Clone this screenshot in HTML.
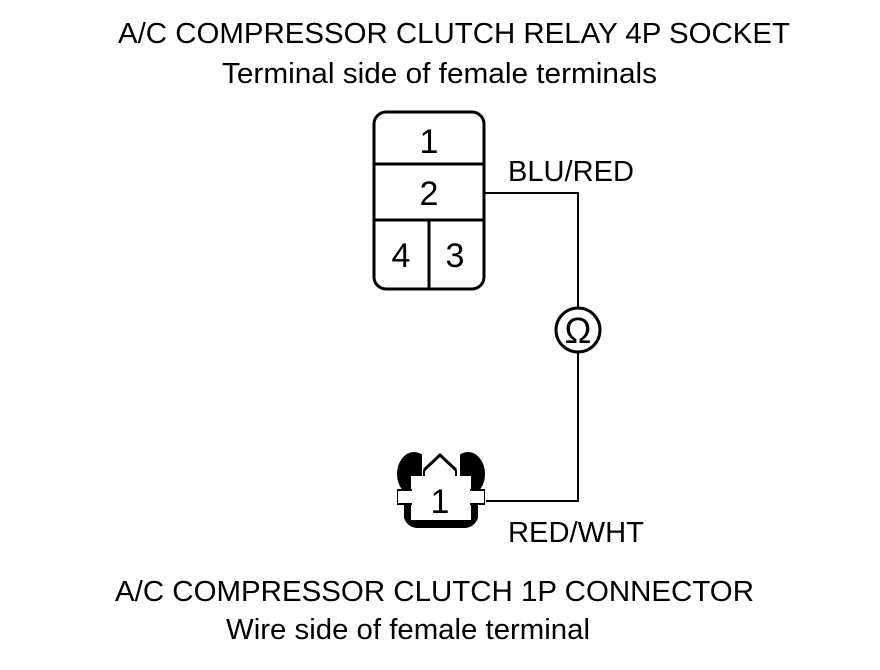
<!DOCTYPE html>
<html><head><style>
body{margin:0;background:#fff;}
svg{display:block}
text{font-family:"Liberation Sans",Arial,sans-serif;fill:#000}
</style></head><body>
<svg width="880" height="670" viewBox="0 0 880 670">
<text x="118" y="43" font-size="29" textLength="672" lengthAdjust="spacingAndGlyphs">A/C COMPRESSOR CLUTCH RELAY 4P SOCKET</text>
<text x="222" y="83" font-size="29" textLength="435" lengthAdjust="spacingAndGlyphs">Terminal side of female terminals</text>
<rect x="374" y="112" width="110" height="177" rx="12" fill="none" stroke="#000" stroke-width="3"/>
<line x1="374" y1="164" x2="484" y2="164" stroke="#000" stroke-width="3"/>
<line x1="374" y1="220" x2="484" y2="220" stroke="#000" stroke-width="3"/>
<line x1="429" y1="220" x2="429" y2="289" stroke="#000" stroke-width="3"/>
<text x="429" y="153" font-size="34" text-anchor="middle">1</text>
<text x="429" y="205" font-size="34" text-anchor="middle">2</text>
<text x="401" y="267" font-size="34" text-anchor="middle">4</text>
<text x="455" y="267" font-size="34" text-anchor="middle">3</text>
<text x="508" y="181" font-size="29" textLength="126" lengthAdjust="spacingAndGlyphs">BLU/RED</text>
<polyline points="484,193 578,193 578,308" fill="none" stroke="#000" stroke-width="2"/>
<circle cx="578" cy="330" r="22" fill="none" stroke="#000" stroke-width="3"/>
<text x="578" y="343" font-size="36" text-anchor="middle">Ω</text>
<polyline points="578,352 578,501 486,501" fill="none" stroke="#000" stroke-width="2"/>
<!-- connector -->
<ellipse cx="414" cy="474" rx="17" ry="22" fill="#000"/>
<ellipse cx="468" cy="474" rx="17" ry="22" fill="#000"/>
<path d="M404,480 l0,38 q4,10 14,10 l46,0 q10,0 14,-10 l0,-38 z" fill="#000"/>
<rect x="411" y="476" width="60" height="44" fill="#fff"/>
<rect x="396" y="490" width="90" height="14" fill="#fff"/>
<rect x="398" y="490" width="13" height="14" fill="none" stroke="#000" stroke-width="2"/>
<rect x="471" y="490" width="13" height="14" fill="none" stroke="#000" stroke-width="2"/>
<rect x="398" y="491" width="14" height="12" fill="#fff"/>
<rect x="470" y="491" width="14" height="12" fill="#fff"/>
<rect x="422" y="454" width="38" height="24" fill="#fff"/>
<polyline points="424,470 440,455 456,470" fill="none" stroke="#000" stroke-width="3"/>
<line x1="424" y1="470" x2="424" y2="476" stroke="#000" stroke-width="2"/>
<line x1="456" y1="470" x2="456" y2="476" stroke="#000" stroke-width="2"/>
<text x="440" y="513" font-size="34" text-anchor="middle">1</text>
<text x="508" y="542" font-size="29" textLength="136" lengthAdjust="spacingAndGlyphs">RED/WHT</text>
<text x="115" y="601" font-size="29" textLength="639" lengthAdjust="spacingAndGlyphs">A/C COMPRESSOR CLUTCH 1P CONNECTOR</text>
<text x="226" y="639" font-size="29" textLength="364" lengthAdjust="spacingAndGlyphs">Wire side of female terminal</text>
</svg>
</body></html>
